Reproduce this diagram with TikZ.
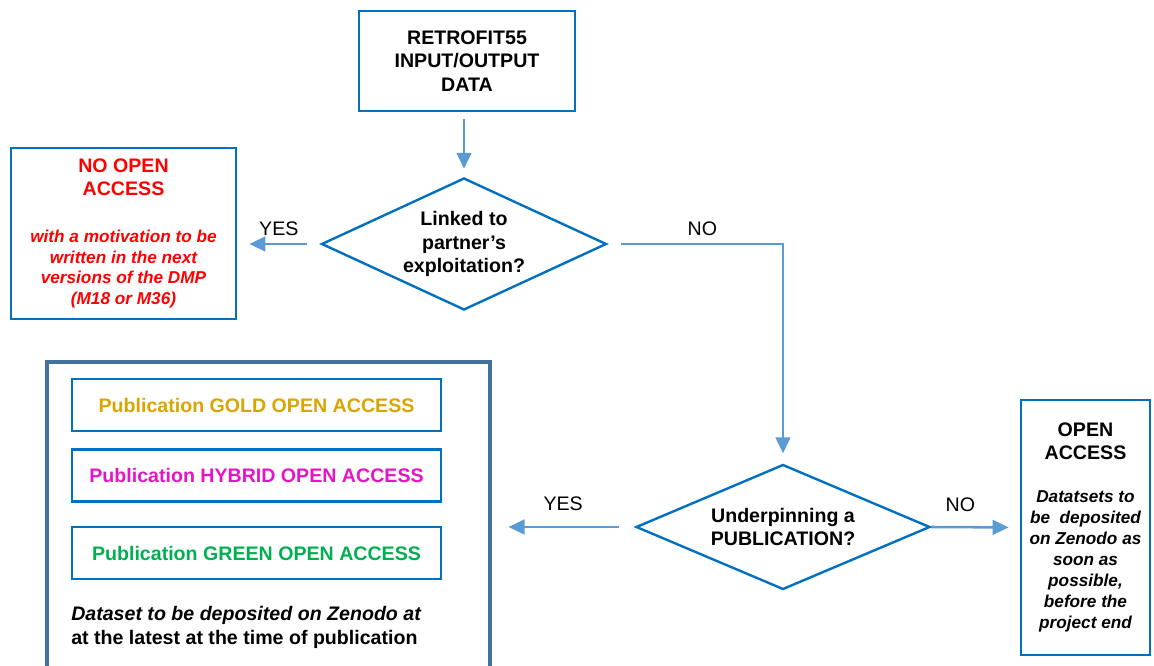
\documentclass[tikz,border=0pt]{standalone}
\usepackage{fontspec}
\setmainfont{Liberation Sans}
\usepackage{tikz}
\usetikzlibrary{arrows.meta}
\usetikzlibrary{shapes.geometric}
\usetikzlibrary{positioning}
\definecolor{boxblue}{RGB}{0,112,192}
\definecolor{arrowblue}{RGB}{91,155,213}
\definecolor{frameblue}{RGB}{68,114,160}
\definecolor{goldtext}{RGB}{218,165,0}
\definecolor{hybridtext}{RGB}{230,20,200}
\definecolor{greentext}{RGB}{0,176,80}
\newcommand{\pxu}{0.75pt}
\newcommand{\bigfont}{\fontsize{14.7}{17.6}\selectfont}
\newcommand{\notefont}{\fontsize{12.9}{15.4}\selectfont}
\tikzset{flow/.style={draw=arrowblue,line width=1.9pt,-{Triangle[length=12pt,width=11pt]}}}

\begin{document}
\begin{tikzpicture}[x=0.75pt,y=-0.75pt]
  % some styles
  \tikzset{
    databox/.style={
      rectangle,
      draw=boxblue,
      line width=2pt,
      fill=white,
      inner sep=0pt,
      align=flush center,
      font=\bfseries\bigfont
    }
  }
  \tikzset{decision/.style={diamond,draw=boxblue,line width=1.8pt,aspect=2.2,inner sep=0pt,align=center,font=\bfseries\bigfont}}
  \tikzset{pubbox/.style={rectangle,draw=boxblue,line width=2pt,minimum width=369*\pxu,minimum height=52*\pxu,font=\bfseries\bigfont}}
  \tikzset{answer/.style={font=\bigfont,inner sep=0pt}}

  \useasboundingbox (0,0) rectangle (1154,666);
  \clip (0,0) rectangle (1154,666);

  % boxes and decisions
  \node[databox, minimum width=216*\pxu, minimum height=100*\pxu] (rdata) at (467,61)
    {RETROFIT55\\INPUT/OUTPUT\\DATA};
  \node[decision, minimum width=285*\pxu, minimum height=132*\pxu] (dexpl) at (464,244)
    {Linked to\\partner's\\exploitation?};
  \node[databox, minimum width=225*\pxu, minimum height=171*\pxu, text=red, text width=222*\pxu] (nooa) at (123.5,233.5)
    {{\bfseries\fontsize{14.7}{17.3}\selectfont NO OPEN\\ACCESS\par}
     \vspace{20pt}
     {\bfseries\itshape\fontsize{12.9}{15.4}\selectfont with a motivation to be\\written in the next\\versions of the DMP\\(M18 or M36)\par}};
  \node[decision, minimum width=294*\pxu, minimum height=125*\pxu] (dpub) at (783,527)
    {Underpinning a\\PUBLICATION?};
  \node[databox, minimum width=129*\pxu, minimum height=255*\pxu, text width=127*\pxu] (oa) at (1085.5,527.5)
    {{\bfseries\fontsize{14.7}{17.3}\selectfont OPEN\\ACCESS\par}
     \vspace{16pt}
     {\bfseries\itshape\fontsize{12.9}{15.8}\selectfont Datatsets to\\be~ deposited\\on Zenodo as\\soon as\\possible,\\before the\\project end\par}};
  % the group box has to sit under the arrows
  \node[draw=frameblue, line width=2.3pt, minimum width=443*\pxu, minimum height=330*\pxu] (pubgroup) at (268.5,527) {};

  % publication kinds
  \node[pubbox, text=goldtext] (gold) at (256.5,405) {Publication GOLD OPEN ACCESS};
  \node[pubbox, text=hybridtext] (hybrid) at (256.5,475.5) {Publication HYBRID OPEN ACCESS};
  \node[pubbox, text=greentext] (green) at (256.5,553) {Publication GREEN OPEN ACCESS};
  \node[anchor=north west, align=left, inner sep=0pt, font=\bfseries\fontsize{14.7}{18}\selectfont] (zenodonote) at (71,606)
    {\itshape Dataset to be deposited on Zenodo at\\at the latest at the time of publication};

  % connectors
  \draw[flow, shorten <=7*\pxu, shorten >=8*\pxu] (rdata.south -| dexpl.north) -- (dexpl.north);
  \draw[flow, shorten <=13*\pxu, shorten >=12*\pxu] (dexpl.west) -- (dexpl.west -| nooa.east)
    node[answer, midway, above=5pt] (yesone) {YES};
  \draw[flow, shorten <=13*\pxu, shorten >=10*\pxu] (dexpl.east) -| (dpub.north)
    node[answer, pos=0.27, above=5pt] (noone) {NO};
  \draw[flow, shorten <=16*\pxu, shorten >=17*\pxu] (dpub.west) -- (pubgroup.east)
    node[answer, midway, above=11pt] (yestwo) {YES};
  \draw[flow, shorten >=11*\pxu] (dpub.east) -- (oa.west)
    node[answer, pos=0.33, above=11pt] (notwo) {NO};
\end{tikzpicture}
\end{document}
